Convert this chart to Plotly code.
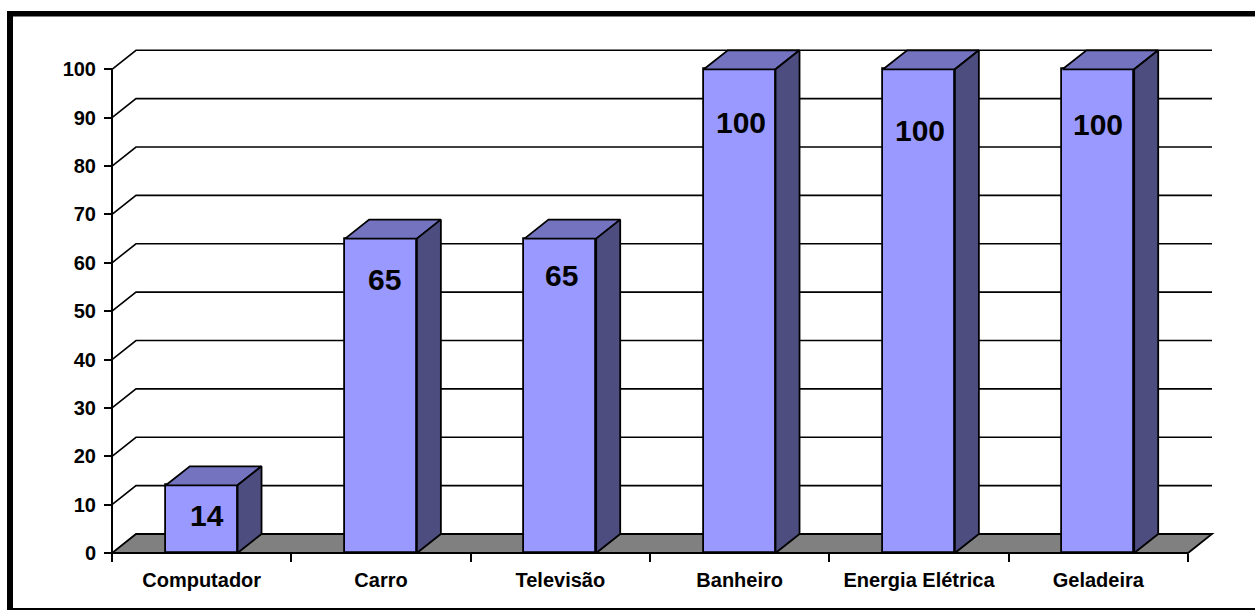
import plotly.graph_objects as go

# Share of households owning each item (%)
categories = ["Computador", "Carro", "Televisão", "Banheiro", "Energia Elétrica", "Geladeira"]
values = [14, 65, 65, 100, 100, 100]
y_ticks = [0, 10, 20, 30, 40, 50, 60, 70, 80, 90, 100]

# ---- page geometry (pixels) ----
W, H = 1255, 610
FRONT_LEFT_PX, FRONT_RIGHT_PX = 112, 1188   # floor front edge
ZERO_PX, HUNDRED_PX = 553, 69.3             # value 0 / value 100
DEPTH_X_PX, DEPTH_Y_PX = 24, 19             # 3-D depth offset
M_L, M_R, M_T, M_B = 101, 38, 48, 46

n = len(categories)
sx = (FRONT_RIGHT_PX - FRONT_LEFT_PX) / n
sy = (ZERO_PX - HUNDRED_PX) / 100.0
dx = DEPTH_X_PX / sx
dy = DEPTH_Y_PX / sy

x_lo = -0.5 - (FRONT_LEFT_PX - M_L) / sx
x_hi = n - 0.5 + (W - M_R - FRONT_RIGHT_PX) / sx
y_lo = -(H - M_B - ZERO_PX) / sy
y_hi = (ZERO_PX - M_T) / sy

plot_w = W - M_L - M_R
plot_h = H - M_T - M_B

centers = list(range(n))
bounds = [i - 0.5 for i in range(n + 1)]
bar_w = 0.4

FRONT = "#9999FF"
TOP = "#7373BF"
SIDE = "#4D4D80"
FLOOR = "#808080"

fig = go.Figure()

# front faces of the columns
fig.add_trace(go.Bar(
    x=centers, y=values, width=bar_w,
    marker=dict(color=FRONT, line=dict(color="black", width=1.8)),
    hoverinfo="skip", showlegend=False,
))

# top and side faces of the columns
top_x, top_y, side_x, side_y = [], [], [], []
for c, v in zip(centers, values):
    l, r = c - bar_w / 2, c + bar_w / 2
    top_x += [l, r, r + dx, l + dx, l, None]
    top_y += [v, v, v + dy, v + dy, v, None]
    side_x += [r, r + dx, r + dx, r, r, None]
    side_y += [0, dy, v + dy, v, 0, None]

fig.add_trace(go.Scatter(
    x=top_x, y=top_y, mode="lines", fill="toself", fillcolor=TOP,
    line=dict(color="black", width=1.8), hoverinfo="skip", showlegend=False,
))
fig.add_trace(go.Scatter(
    x=side_x, y=side_y, mode="lines", fill="toself", fillcolor=SIDE,
    line=dict(color="black", width=1.8), hoverinfo="skip", showlegend=False,
))

shapes = []
# gridlines: diagonal from the front axis, then along the back wall
for t in y_ticks[1:]:
    shapes.append(dict(
        type="path", xref="x", yref="y", layer="below",
        path=f"M {bounds[0]},{t} L {bounds[0] + dx},{t + dy} L {bounds[-1] + dx},{t + dy}",
        line=dict(color="black", width=1.6),
    ))
# floor
shapes.append(dict(
    type="path", xref="x", yref="y", layer="below",
    path=(f"M {bounds[0]},0 L {bounds[-1]},0 L {bounds[-1] + dx},{dy} "
          f"L {bounds[0] + dx},{dy} Z"),
    fillcolor=FLOOR, line=dict(color="black", width=1.8),
))
# front value axis line
shapes.append(dict(
    type="line", xref="x", yref="y", layer="above",
    x0=bounds[0], x1=bounds[0], y0=0, y1=y_ticks[-1],
    line=dict(color="black", width=2),
))


def px_to_paper_x(px):
    return (px - M_L) / plot_w


def px_to_paper_y(py):
    return (H - M_B - py) / plot_h


# chart frame
for x0, x1, y0, y1 in [(7, W + 2, 11, 16.5), (7, 13, 11, H + 2), (7, W + 2, 608, H + 2)]:
    shapes.append(dict(
        type="rect", xref="paper", yref="paper", layer="above",
        x0=px_to_paper_x(x0), x1=px_to_paper_x(x1),
        y0=px_to_paper_y(y1), y1=px_to_paper_y(y0),
        fillcolor="black", line=dict(width=0),
    ))

# value labels on the front faces
label_shift_x = [5, 3, 1, 1, 1, 0]
label_shift_y = [30, 41, 37, 53, 61, 55]
annotations = []
for c, v, sxp, syp in zip(centers, values, label_shift_x, label_shift_y):
    annotations.append(dict(
        x=c, y=v, xref="x", yref="y", text=str(v), showarrow=False,
        xshift=sxp, yshift=-syp, xanchor="center", yanchor="middle",
        font=dict(family="Liberation Sans, Arial, sans-serif", size=30,
                  color="black", weight="bold"),
    ))

tick_font = dict(family="Liberation Sans, Arial, sans-serif", size=20,
                 color="black", weight="bold")

fig.update_layout(
    width=W, height=H,
    margin=dict(l=M_L, r=M_R, t=M_T, b=M_B, pad=0),
    paper_bgcolor="white", plot_bgcolor="rgba(0,0,0,0)",
    showlegend=False,
    shapes=shapes, annotations=annotations,
    bargap=0,
    xaxis=dict(
        range=[x_lo, x_hi], domain=[0, 1],
        anchor="free", position=(0 - y_lo) / (y_hi - y_lo),
        tickmode="array", tickvals=centers, ticktext=categories,
        ticks="outside", ticklen=9, tickcolor="rgba(0,0,0,0)",
        minor=dict(tickmode="array", tickvals=bounds, ticks="outside",
                   ticklen=8, tickwidth=2, tickcolor="black"),
        showgrid=False, zeroline=False, showline=False,
        tickfont=tick_font, automargin=False, fixedrange=True,
    ),
    yaxis=dict(
        range=[y_lo, y_hi], domain=[0, 1],
        anchor="free", position=(bounds[0] - x_lo) / (x_hi - x_lo),
        tickmode="array", tickvals=y_ticks,
        ticks="outside", ticklen=8, tickwidth=2, tickcolor="black",
        ticklabelstandoff=4,
        showgrid=False, zeroline=False, showline=False,
        tickfont=tick_font, automargin=False, fixedrange=True,
    ),
)

fig.write_html("out.html")
